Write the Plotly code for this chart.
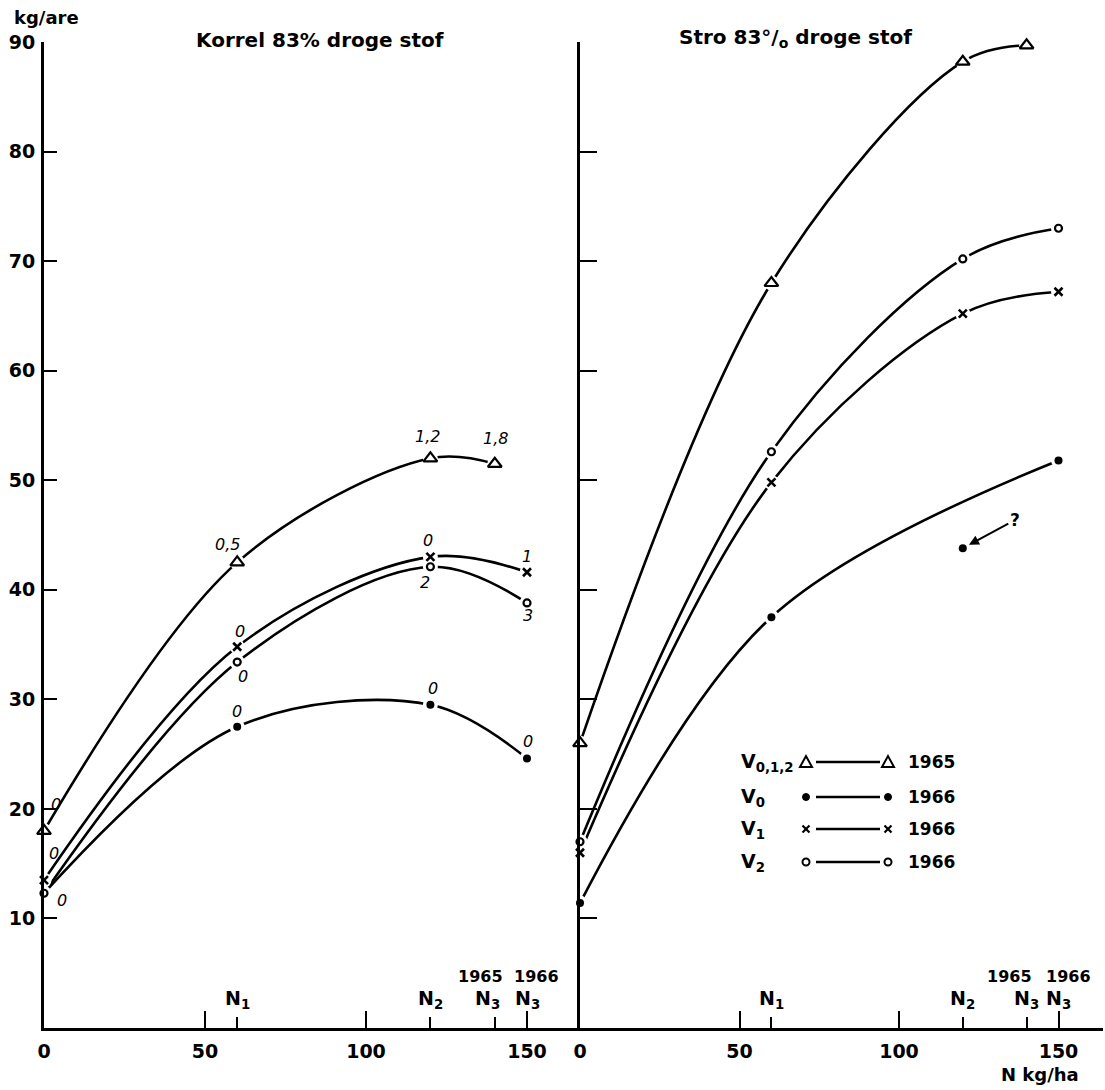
import plotly.graph_objects as go

# ---------------- data ----------------
n_1965 = [0, 60, 120, 140]     # N kg/ha applied in 1965 (N0, N1, N2, N3)
n_1966 = [0, 60, 120, 150]     # N kg/ha applied in 1966

# Korrel 83% droge stof (kg/are)
korrel_v012_1965 = [18.0, 42.5, 52.0, 51.5]
korrel_v0_1966 = [12.3, 27.5, 29.5, 24.6]
korrel_v1_1966 = [13.5, 34.8, 43.0, 41.6]
korrel_v2_1966 = [12.3, 33.4, 42.1, 38.8]

# Stro 83% droge stof (kg/are)
stro_v012_1965 = [26.0, 68.0, 88.2, 89.7]
stro_v0_1966 = [11.4, 37.5, 43.8, 51.8]
stro_v1_1966 = [16.0, 49.8, 65.2, 67.2]
stro_v2_1966 = [17.0, 52.6, 70.2, 73.0]

# which points carry a visible marker / lie on the drawn curve
korrel_v0_marker = [False, True, True, True]
stro_v0_on_curve = [True, True, False, True]   # 120 kg point marked "?"

# small italic numbers written next to the Korrel points
korrel_notes_v012 = ["0", "0,5", "1,2", "1,8"]
korrel_notes_v0 = ["", "0", "0", "0"]
korrel_notes_v1 = ["0", "0", "0", "1"]
korrel_notes_v2 = ["0", "0", "2", "3"]

x_tick_vals = [0, 50, 100, 150]
y_tick_vals = [10, 20, 30, 40, 50, 60, 70, 80, 90]
n_mark_vals = [60, 120, 140, 150]
n_mark_text = ["N<sub>1</sub>", "N<sub>2</sub>", "N<sub>3</sub>", "N<sub>3</sub>"]
n_mark_year = ["", "", "1965", "1966"]

legend_rows = [("V<sub>0,1,2</sub>", "1965"), ("V<sub>0</sub>", "1966"),
               ("V<sub>1</sub>", "1966"), ("V<sub>2</sub>", "1966")]

# ---------------- styling ----------------
W, H = 1105, 1090
FONT = "DejaVu Sans"
INK = "black"
LW = 2.6


def pxx(p):
    return p / W


def pxy(p):
    return 1 - p / H


def bold(size):
    return dict(family=FONT, size=size, color=INK, weight="bold")


symbols = {
    "tri": dict(symbol="triangle-up-open", size=12, line=dict(width=2.2, color=INK), color=INK),
    "dot": dict(symbol="circle", size=8, color=INK, line=dict(width=0)),
    "x": dict(symbol="x-thin-open", size=8, line=dict(width=2.6, color=INK), color=INK),
    "ring": dict(symbol="circle-open", size=7, line=dict(width=2.2, color=INK), color=INK),
}

series = [
    # panel axes, x, y, symbol, marker mask, curve mask
    ("x", "y", n_1965, korrel_v012_1965, "tri", None, None),
    ("x", "y", n_1966, korrel_v0_1966, "dot", korrel_v0_marker, None),
    ("x", "y", n_1966, korrel_v1_1966, "x", None, None),
    ("x", "y", n_1966, korrel_v2_1966, "ring", None, None),
    ("x2", "y2", n_1965, stro_v012_1965, "tri", None, None),
    ("x2", "y2", n_1966, stro_v0_1966, "dot", None, stro_v0_on_curve),
    ("x2", "y2", n_1966, stro_v1_1966, "x", None, None),
    ("x2", "y2", n_1966, stro_v2_1966, "ring", None, None),
]

fig = go.Figure()


def pick(vals, mask):
    if mask is None:
        return list(vals)
    return [v for v, m in zip(vals, mask) if m]


# curves
for xa, ya, xs, ys, sym, mmask, cmask in series:
    fig.add_trace(go.Scatter(x=pick(xs, cmask), y=pick(ys, cmask), xaxis=xa, yaxis=ya,
                             mode="lines", line=dict(color=INK, width=LW, shape="spline", smoothing=1.0),
                             cliponaxis=False, hoverinfo="skip"))
# white gaps around the points
for xa, ya, xs, ys, sym, mmask, cmask in series:
    fig.add_trace(go.Scatter(x=pick(xs, mmask), y=pick(ys, mmask), xaxis=xa, yaxis=ya,
                             mode="markers", marker=dict(size=15, color="white", line=dict(width=0)),
                             cliponaxis=False, hoverinfo="skip"))
# point symbols
for xa, ya, xs, ys, sym, mmask, cmask in series:
    fig.add_trace(go.Scatter(x=pick(xs, mmask), y=pick(ys, mmask), xaxis=xa, yaxis=ya,
                             mode="markers", marker=symbols[sym], cliponaxis=False))

annotations = []

# italic notes on the Korrel panel (pixel offsets from their point)
note_sets = [
    (n_1965, korrel_v012_1965, korrel_notes_v012, [(12, 26), (-10, 18), (-3, 22), (1, 25)]),
    (n_1966, korrel_v0_1966, korrel_notes_v0, [(0, 0), (0, 15), (3, 16), (1, 17)]),
    (n_1966, korrel_v1_1966, korrel_notes_v1, [(10, 27), (3, 15), (-2, 16), (0, 16)]),
    (n_1966, korrel_v2_1966, korrel_notes_v2, [(18, -7), (6, -14), (-5, -16), (1, -13)]),
]
for xs, ys, notes, offs in note_sets:
    for xv, yv, t, (dx, dy) in zip(xs, ys, notes, offs):
        if not t:
            continue
        annotations.append(dict(x=xv, y=yv, xref="x", yref="y", text="<i>" + t + "</i>",
                                showarrow=False, xshift=dx, yshift=dy, xanchor="center",
                                yanchor="middle", font=dict(family=FONT, size=16, color=INK)))

# "?" with arrow to the doubtful Stro V0 point
q_idx = stro_v0_on_curve.index(False)
annotations.append(dict(x=n_1966[q_idx], y=stro_v0_1966[q_idx], xref="x2", yref="y2", text="?",
                        showarrow=True, ax=52, ay=-28, arrowhead=2, arrowsize=1, arrowwidth=2,
                        arrowcolor=INK, standoff=7, font=bold(17)))

# N-level labels above the x axes
year_shift = {("x", "1965"): -14, ("x", "1966"): 9, ("x2", "1965"): -17, ("x2", "1966"): 10}
n_shift = {("x", "1965"): -7}
for xa, ya in (("x", "y"), ("x2", "y2")):
    for nv, nt, yr in zip(n_mark_vals, n_mark_text, n_mark_year):
        annotations.append(dict(x=nv, y=0, xref=xa, yref=ya, text=nt, showarrow=False,
                                yshift=29, xshift=n_shift.get((xa, yr), 0), xanchor="center",
                                yanchor="middle", font=bold(19)))
        if yr:
            annotations.append(dict(x=nv, y=0, xref=xa, yref=ya, text=yr, showarrow=False,
                                    yshift=52, xshift=year_shift[(xa, yr)], xanchor="center",
                                    yanchor="middle", font=bold(16)))

# titles
annotations += [
    dict(x=pxx(12), y=pxy(18), xref="paper", yref="paper", xanchor="left", yanchor="middle",
         text="kg/are", showarrow=False, font=bold(18)),
    dict(x=pxx(320), y=pxy(40), xref="paper", yref="paper", xanchor="center", yanchor="middle",
         text="Korrel 83% droge stof", showarrow=False, font=bold(20)),
    dict(x=pxx(795), y=pxy(38), xref="paper", yref="paper", xanchor="center", yanchor="middle",
         text="Stro 83°/<sub>o</sub> droge stof", showarrow=False, font=bold(20)),
    dict(x=pxx(1040), y=pxy(1074), xref="paper", yref="paper", xanchor="center", yanchor="middle",
         text="N kg/ha", showarrow=False, font=bold(18)),
]

# legend drawn inside the Stro panel
shapes = []
row_y = [762, 797, 829, 862]
leg_syms = ["tri", "dot", "x", "ring"]
for (lab, yr), ry, sym in zip(legend_rows, row_y, leg_syms):
    annotations.append(dict(x=pxx(739), y=pxy(ry), xref="paper", yref="paper", xanchor="left",
                            yanchor="middle", text=lab, showarrow=False, font=bold(19)))
    annotations.append(dict(x=pxx(906), y=pxy(ry), xref="paper", yref="paper", xanchor="left",
                            yanchor="middle", text=yr, showarrow=False, font=bold(17)))
    shapes.append(dict(type="line", xref="paper", yref="paper", x0=pxx(816), x1=pxx(880),
                       y0=pxy(ry), y1=pxy(ry), line=dict(color=INK, width=LW)))
    for cx in (806, 888):
        base = dict(xref="paper", yref="paper", xsizemode="pixel", ysizemode="pixel",
                    xanchor=pxx(cx), yanchor=pxy(ry))
        if sym == "tri":
            shapes.append(dict(type="path", path="M -6,-5 L 6,-5 L 0,6 Z",
                               line=dict(color=INK, width=2), fillcolor="white", **base))
        elif sym == "dot":
            shapes.append(dict(type="circle", x0=-3.5, x1=3.5, y0=-3.5, y1=3.5,
                               line=dict(color=INK, width=1), fillcolor=INK, **base))
        elif sym == "ring":
            shapes.append(dict(type="circle", x0=-3.5, x1=3.5, y0=-3.5, y1=3.5,
                               line=dict(color=INK, width=2), fillcolor="white", **base))
        else:
            shapes.append(dict(type="line", x0=-3.5, x1=3.5, y0=-3.5, y1=3.5,
                               line=dict(color=INK, width=2.2), **base))
            shapes.append(dict(type="line", x0=-3.5, x1=3.5, y0=3.5, y1=-3.5,
                               line=dict(color=INK, width=2.2), **base))

axis_common = dict(showline=True, linecolor=INK, linewidth=2.8, showgrid=False, zeroline=False,
                   ticks="inside", tickcolor=INK, tickwidth=2.4, automargin=False,
                   tickfont=bold(19))
y_dom = [(H - 1028) / H, (H - 42) / H]

fig.update_layout(
    width=W, height=H, margin=dict(l=0, r=0, t=0, b=0, pad=0), autosize=False,
    paper_bgcolor="white", plot_bgcolor="white", showlegend=False,
    xaxis=dict(domain=[pxx(44), pxx(580)], range=[0, 536 / 3.22], anchor="y",
               tickvals=x_tick_vals, ticklen=17, ticklabelstandoff=4,
               minor=dict(tickvals=n_mark_vals, ticks="inside", ticklen=11, tickwidth=2.2, tickcolor=INK),
               **axis_common),
    yaxis=dict(domain=y_dom, range=[0, 90], anchor="x", tickvals=y_tick_vals, ticklen=13,
               ticklabelstandoff=2, **axis_common),
    xaxis2=dict(domain=[pxx(580), pxx(1103)], range=[0, 523 / 3.19], anchor="y2",
                tickvals=x_tick_vals, ticklen=17, ticklabelstandoff=4,
                minor=dict(tickvals=n_mark_vals, ticks="inside", ticklen=11, tickwidth=2.2, tickcolor=INK),
                **axis_common),
    yaxis2=dict(domain=y_dom, range=[0, 90], anchor="x2", matches="y", tickvals=y_tick_vals,
                ticklen=17, showticklabels=False, **axis_common),
    annotations=annotations, shapes=shapes,
)

fig.write_html("out.html", config={"displayModeBar": False},
               post_script="document.body.style.margin='0px';document.body.style.overflow='hidden';")
